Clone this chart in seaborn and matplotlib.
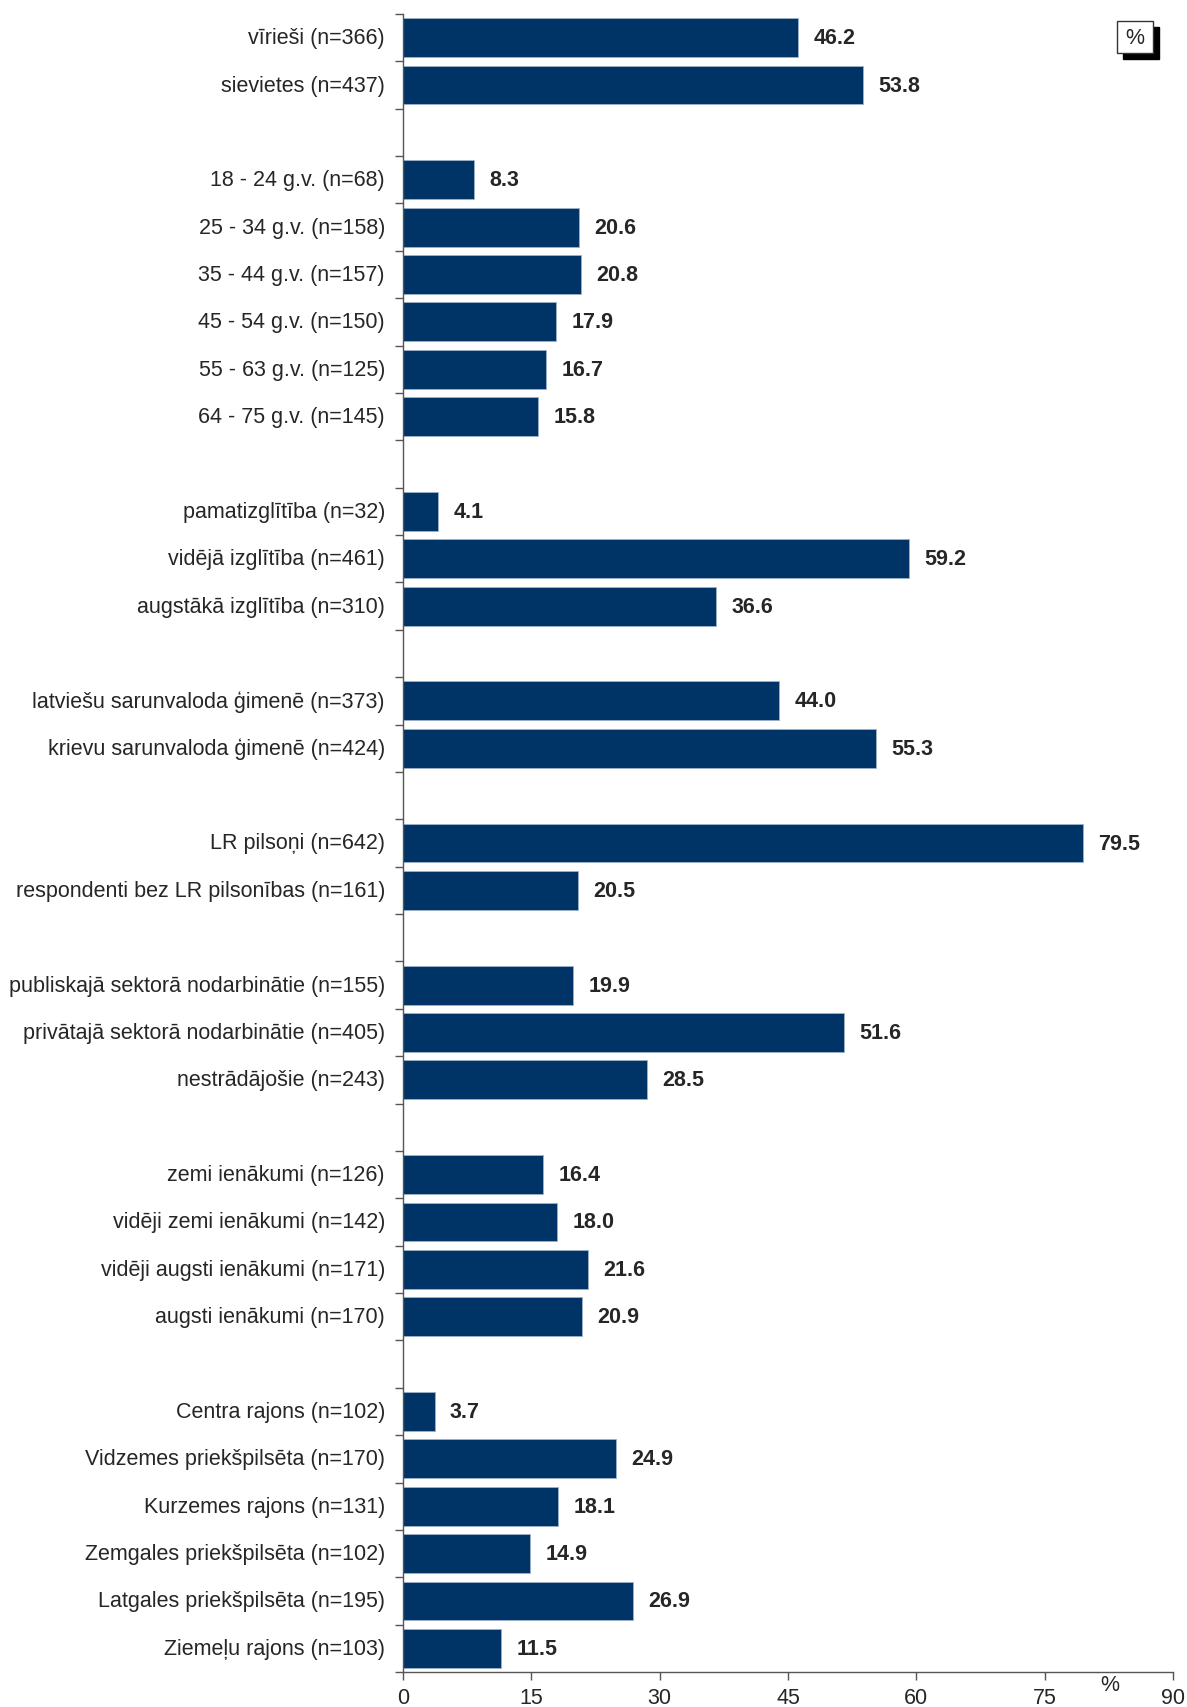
"""
Bar chart by respondent group — horizontal bars with blank gaps between groups.
"""

import matplotlib

matplotlib.use("Agg")
import matplotlib.pyplot as plt
import pandas as pd
import seaborn as sns
from matplotlib.patches import Rectangle
from matplotlib.ticker import FixedLocator

# ─── Data ───
GENDER = ["vīrieši (n=366)", "sievietes (n=437)"]
GENDER_VALS = [46.2, 53.8]

AGE = [
    "18 - 24 g.v. (n=68)",
    "25 - 34 g.v. (n=158)",
    "35 - 44 g.v. (n=157)",
    "45 - 54 g.v. (n=150)",
    "55 - 63 g.v. (n=125)",
    "64 - 75 g.v. (n=145)",
]
AGE_VALS = [8.3, 20.6, 20.8, 17.9, 16.7, 15.8]

EDUCATION = [
    "pamatizglītība (n=32)",
    "vidējā izglītība (n=461)",
    "augstākā izglītība (n=310)",
]
EDUCATION_VALS = [4.1, 59.2, 36.6]

LANGUAGE = [
    "latviešu sarunvaloda ģimenē (n=373)",
    "krievu sarunvaloda ģimenē (n=424)",
]
LANGUAGE_VALS = [44.0, 55.3]

CITIZENSHIP = ["LR pilsoņi (n=642)", "respondenti bez LR pilsonības (n=161)"]
CITIZENSHIP_VALS = [79.5, 20.5]

EMPLOYMENT = [
    "publiskajā sektorā nodarbinātie (n=155)",
    "privātajā sektorā nodarbinātie (n=405)",
    "nestrādājošie (n=243)",
]
EMPLOYMENT_VALS = [19.9, 51.6, 28.5]

INCOME = [
    "zemi ienākumi (n=126)",
    "vidēji zemi ienākumi (n=142)",
    "vidēji augsti ienākumi (n=171)",
    "augsti ienākumi (n=170)",
]
INCOME_VALS = [16.4, 18.0, 21.6, 20.9]

DISTRICT = [
    "Centra rajons (n=102)",
    "Vidzemes priekšpilsēta (n=170)",
    "Kurzemes rajons (n=131)",
    "Zemgales priekšpilsēta (n=102)",
    "Latgales priekšpilsēta (n=195)",
    "Ziemeļu rajons (n=103)",
]
DISTRICT_VALS = [3.7, 24.9, 18.1, 14.9, 26.9, 11.5]

X_TICKS = [0, 15, 30, 45, 60, 75, 90]

GROUPS = [
    (GENDER, GENDER_VALS),
    (AGE, AGE_VALS),
    (EDUCATION, EDUCATION_VALS),
    (LANGUAGE, LANGUAGE_VALS),
    (CITIZENSHIP, CITIZENSHIP_VALS),
    (EMPLOYMENT, EMPLOYMENT_VALS),
    (INCOME, INCOME_VALS),
    (DISTRICT, DISTRICT_VALS),
]

BAR_COLOR = "#003366"
FS = 15.5


def build_frame():
    labels, values, order = [], [], []
    for i, (cats, vals) in enumerate(GROUPS):
        if i > 0:
            order.append(" " * i)  # blank slot between groups
        labels.extend(cats)
        values.extend(vals)
        order.extend(cats)
    df = pd.DataFrame({"group": labels, "value": values})
    return df, order


def main():
    df, order = build_frame()

    sns.set_style("white")
    plt.rcParams["font.family"] = ["Liberation Sans", "DejaVu Sans"]

    fig = plt.figure(figsize=(11.87, 17.08), dpi=100)
    ax = fig.add_axes([403 / 1187, 1 - 1673 / 1708, (1173 - 403) / 1187, (1673 - 15) / 1708])

    sns.barplot(
        data=df,
        x="value",
        y="group",
        order=order,
        color=BAR_COLOR,
        saturation=1,
        width=0.82,
        edgecolor="#9db3cc",
        linewidth=0.6,
        ax=ax,
    )

    # value labels
    for cont in ax.containers:
        ax.bar_label(
            cont,
            labels=[f"{v:.1f}" for v in cont.datavalues],
            padding=11,
            fontsize=FS,
            fontweight="bold",
        )

    n = len(order)
    ax.set_xlim(0, 90)
    ax.set_ylim(n - 0.5, -0.5)
    ax.set_xticks(X_TICKS)
    ax.set_xticklabels([str(t) for t in X_TICKS], fontsize=FS)
    ax.set_xlabel("")
    ax.set_ylabel("")

    # category labels without ticks, short ticks at slot boundaries
    ax.tick_params(axis="y", which="major", left=True, length=0, pad=13, labelsize=FS)
    for lbl in ax.get_yticklabels():
        lbl.set_verticalalignment("center")
    ax.yaxis.set_minor_locator(FixedLocator([i - 0.5 for i in range(n + 1)]))
    ax.tick_params(axis="y", which="minor", left=True, length=6, width=1, color="#555555", direction="out")
    ax.tick_params(axis="x", which="major", bottom=True, length=6, width=1, color="#555555",
                   direction="out", pad=5)

    for side in ["top", "right"]:
        ax.spines[side].set_visible(False)
    for side in ["left", "bottom"]:
        ax.spines[side].set_color("#555555")
        ax.spines[side].set_linewidth(1.0)

    # "%" near the axis end
    fig.text(1110 / 1187, 1 - 1686 / 1708, "%", fontsize=FS, ha="center", va="center")

    # "%" box with shadow in the top right corner
    bx, by, bw, bh = 1117 / 1187, 1 - 54 / 1708, 36 / 1187, 32 / 1708
    sx, sy = 6 / 1187, 6 / 1708
    fig.patches.append(Rectangle((bx + sx, by - sy), bw, bh, transform=fig.transFigure,
                                 facecolor="black", edgecolor="black", zorder=5))
    fig.patches.append(Rectangle((bx, by), bw, bh, transform=fig.transFigure,
                                 facecolor="white", edgecolor="#333333", linewidth=1, zorder=6))
    fig.text(bx + bw / 2, by + bh / 2, "%", fontsize=FS, ha="center", va="center", zorder=7)

    fig.savefig("out.png", dpi=100)
    plt.close(fig)


if __name__ == "__main__":
    main()
